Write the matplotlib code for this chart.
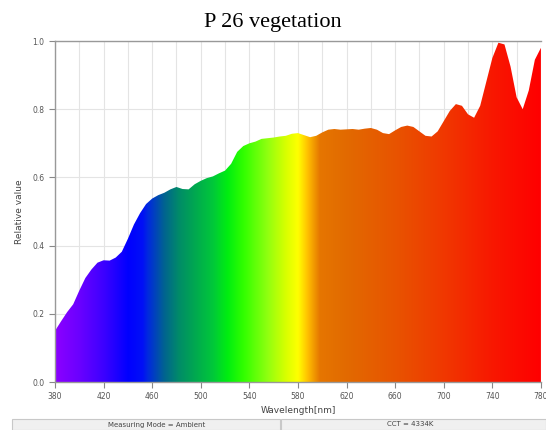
import matplotlib
matplotlib.use("Agg")
import matplotlib.pyplot as plt
import numpy as np
from matplotlib.colors import LinearSegmentedColormap
from matplotlib.patches import Rectangle

# spectrum, every 5 nm
wavelength = list(range(380, 781, 5))
rel_value = [
    0.150, 0.178, 0.205, 0.228, 0.268, 0.305, 0.330, 0.350, 0.357, 0.356,
    0.365, 0.382, 0.420, 0.462, 0.495, 0.522, 0.538, 0.548, 0.555, 0.565,
    0.572, 0.566, 0.565, 0.580, 0.590, 0.598, 0.603, 0.612, 0.620, 0.640,
    0.675, 0.692, 0.700, 0.705, 0.713, 0.715, 0.717, 0.720, 0.722, 0.728,
    0.730, 0.724, 0.718, 0.722, 0.732, 0.740, 0.742, 0.740, 0.741, 0.742,
    0.740, 0.743, 0.745, 0.740, 0.730, 0.727, 0.738, 0.748, 0.752, 0.748,
    0.735, 0.722, 0.720, 0.735, 0.765, 0.795, 0.815, 0.810, 0.785, 0.775,
    0.810, 0.880, 0.950, 0.995, 0.990, 0.925, 0.835, 0.800, 0.855, 0.945,
    0.980,
]

x_ticks = [380, 420, 460, 500, 540, 580, 620, 660, 700, 740, 780]
y_ticks = [0.0, 0.2, 0.4, 0.6, 0.8, 1.0]

title = "P 26 vegetation"
status_left = "Measuring Mode = Ambient"
status_right = "CCT = 4334K"

# spectral colours (wavelength, colour)
spec_stops = [
    (380, "#8c00ff"), (400, "#6a00ff"), (420, "#3c00ff"), (440, "#0000ff"),
    (452, "#0010f6"), (456, "#0028e0"), (470, "#00648f"), (482, "#008c68"),
    (495, "#00a850"), (510, "#00c83a"), (522, "#00ee10"), (535, "#30ff00"),
    (555, "#90ff10"), (570, "#d8ff00"), (580, "#ffff00"), (588, "#ffc000"),
    (598, "#e67600"), (620, "#e26a00"), (660, "#e85400"), (700, "#f03800"),
    (740, "#f81800"), (780, "#ff0000"),
]

lo, hi = x_ticks[0], x_ticks[-1]
cmap = LinearSegmentedColormap.from_list(
    "spec", [((w - lo) / (hi - lo), c) for w, c in spec_stops], N=512)

fig = plt.figure(figsize=(5.46, 4.30), dpi=100)
ax = fig.add_axes([0.1007, 0.1116, 0.890, 0.793])

poly = ax.fill_between(wavelength, 0, rel_value, color="none", lw=0)
grad = np.linspace(0, 1, 512).reshape(1, -1)
im = ax.imshow(grad, cmap=cmap, aspect="auto", extent=[lo, hi, 0, 1],
               origin="lower", zorder=2)
im.set_clip_path(poly.get_paths()[0], transform=ax.transData)

ax.set_xlim(lo, hi)
ax.set_ylim(0, 1)
ax.set_xticks(x_ticks)
ax.set_yticks(y_ticks)
ax.set_yticklabels([f"{v:.1f}" for v in y_ticks])
ax.set_xticks(range(380, 781, 20), minor=True)
ax.grid(True, which="both", axis="x", color="#e4e4e4", lw=0.8, zorder=0)
ax.grid(True, which="major", axis="y", color="#e4e4e4", lw=0.8, zorder=0)
ax.set_axisbelow(True)
ax.tick_params(axis="both", which="major", labelsize=5.5, colors="#888888",
               labelcolor="#555555", length=4, width=0.8, direction="out")
ax.tick_params(axis="x", which="minor", length=0)
for s in ax.spines.values():
    s.set_color("#999999")
    s.set_linewidth(1.0)
ax.spines["right"].set_visible(False)

ax.set_xlabel("Wavelength[nm]", fontsize=6.5, color="#444444", labelpad=3)
ax.set_ylabel("Relative value", fontsize=6.5, color="#444444", labelpad=6)

fig.text(0.5, 0.948, title, ha="center", va="center", fontsize=16,
         family="Liberation Serif")

# status bar
bar_y, bar_h = 0.0, 11 / 430
fig.patches.append(Rectangle((12 / 546, bar_y), 268 / 546, bar_h,
                             transform=fig.transFigure, fc="#f0f0f0",
                             ec="#c8c8c8", lw=0.8))
fig.patches.append(Rectangle((281 / 546, bar_y), 265 / 546, bar_h,
                             transform=fig.transFigure, fc="#f0f0f0",
                             ec="#c8c8c8", lw=0.8))
fig.text(157 / 546, bar_y + bar_h / 2, status_left, ha="center", va="center",
         fontsize=5, color="#444444")
fig.text(410 / 546, bar_y + bar_h / 2, status_right, ha="center", va="center",
         fontsize=5, color="#444444")

fig.savefig("out.png", dpi=100)
